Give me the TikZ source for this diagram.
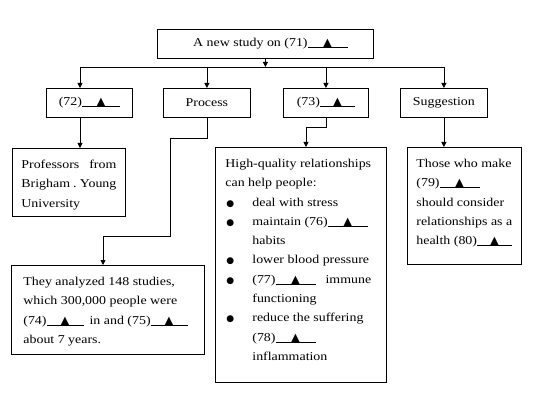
\documentclass[tikz,border=0pt]{standalone}
\usepackage{fontspec}
\setmainfont{Liberation Serif}[FakeStretch=1.16]
\newfontfamily\symfont{DejaVu Sans}
\usetikzlibrary{arrows.meta,calc}
\newcommand\tri{{\symfont\fontsize{11.5}{11.5}\selectfont ▲}}
\newcommand\gp[1][40pt]{\rlap{\rule[-1pt]{#1}{0.5pt}}\makebox[#1]{\tri}}
\newcommand\bul{\makebox[27pt][l]{\hspace{1pt}{\symfont\fontsize{9}{9}\selectfont ●}}}
\newcommand\ind{\hspace*{27pt}}
\newcommand\btext[3]{\parbox[t][#2][t]{#1}{\fontsize{12}{19.3}\selectfont\strut #3}}
\tikzset{
  bx/.style={draw, line width=0.8pt, anchor=north west, inner xsep=#1, inner ysep=6.5pt},
  rbox/.style={draw, line width=0.8pt, anchor=north west, inner sep=0pt, font=\fontsize{12}{14}\selectfont},
  conn/.style={line width=0.8pt},
  arr/.style={line width=0.8pt, -{Triangle[length=5pt,width=5pt]}}
}
\begin{document}
\begin{tikzpicture}[x=1pt,y=-1pt]
\fill[white] (0,0) rectangle (541,401);
% top
\node[rbox, minimum width=216pt, minimum height=29pt] (top) at (157,29) {\hspace{10pt}A new study on (71)\gp};
% row
\node[rbox, minimum width=86pt, minimum height=29pt] (b72) at (46,88) {(72)\gp[38pt]};
\node[rbox, minimum width=87pt, minimum height=29pt] (pr) at (163,88) {Process};
\node[rbox, minimum width=85pt, minimum height=29pt] (b73) at (283,88) {(73)\gp[35pt]};
\node[rbox, minimum width=87pt, minimum height=29pt] (sg) at (400,88) {Suggestion};
% lower boxes
\node[bx=9pt] (prof) at (12,148) {\btext{95pt}{55pt}{\makebox[\linewidth][l]{Professors\hfill from}\\\makebox[\linewidth][l]{Brigham\hspace{3pt}.\hfill Young}\\University}};
\node[bx=12pt] (they) at (11,265) {\btext{169pt}{76pt}{They analyzed 148 studies,\\which 300,000 people were\\\makebox[\linewidth][l]{(74)\gp[37pt]\hspace{6pt}in and (75)\gp[37pt]}\\about 7 years.}};
\node[bx=10pt] (hq) at (215,147) {\btext{151pt}{222pt}{High-quality relationships\\can help people:\\\bul deal with stress\\\bul maintain (76)\gp\\\ind habits\\\bul lower blood pressure\\\bul (77)\gp\hspace{10pt}immune\\\ind functioning\\\bul reduce the suffering\\\ind (78)\gp\\\ind inflammation}};
\node[bx=9pt] (sgl) at (407,147) {\btext{96pt}{104pt}{Those who make\\(79)\gp\\should consider\\relationships as a\\health (80)\gp[35pt]}};
% connectors
\coordinate (c72) at (80,67);
\coordinate (k1) at (170,138);
\coordinate (k2) at (103,236);
\coordinate (k3) at (306,127);
\draw[conn] (c72) -- (sg.north |- c72);
\draw[arr] (top.south) -- (top.south |- c72);
\draw[arr] (c72) -- (c72 |- b72.north);
\draw[arr] (pr.north |- c72) -- (pr.north);
\draw[arr] (b73.north |- c72) -- (b73.north);
\draw[arr] (sg.north |- c72) -- (sg.north);
\draw[arr] (c72 |- b72.south) -- (c72 |- prof.north);
\draw[arr] (pr.south) |- (k1) |- (k2) -- (k2 |- they.north);
\draw[arr] (b73.south) |- (k3) -- (k3 |- hq.north);
\draw[arr] (sg.south) -- (sg.south |- sgl.north);
\end{tikzpicture}
\end{document}
